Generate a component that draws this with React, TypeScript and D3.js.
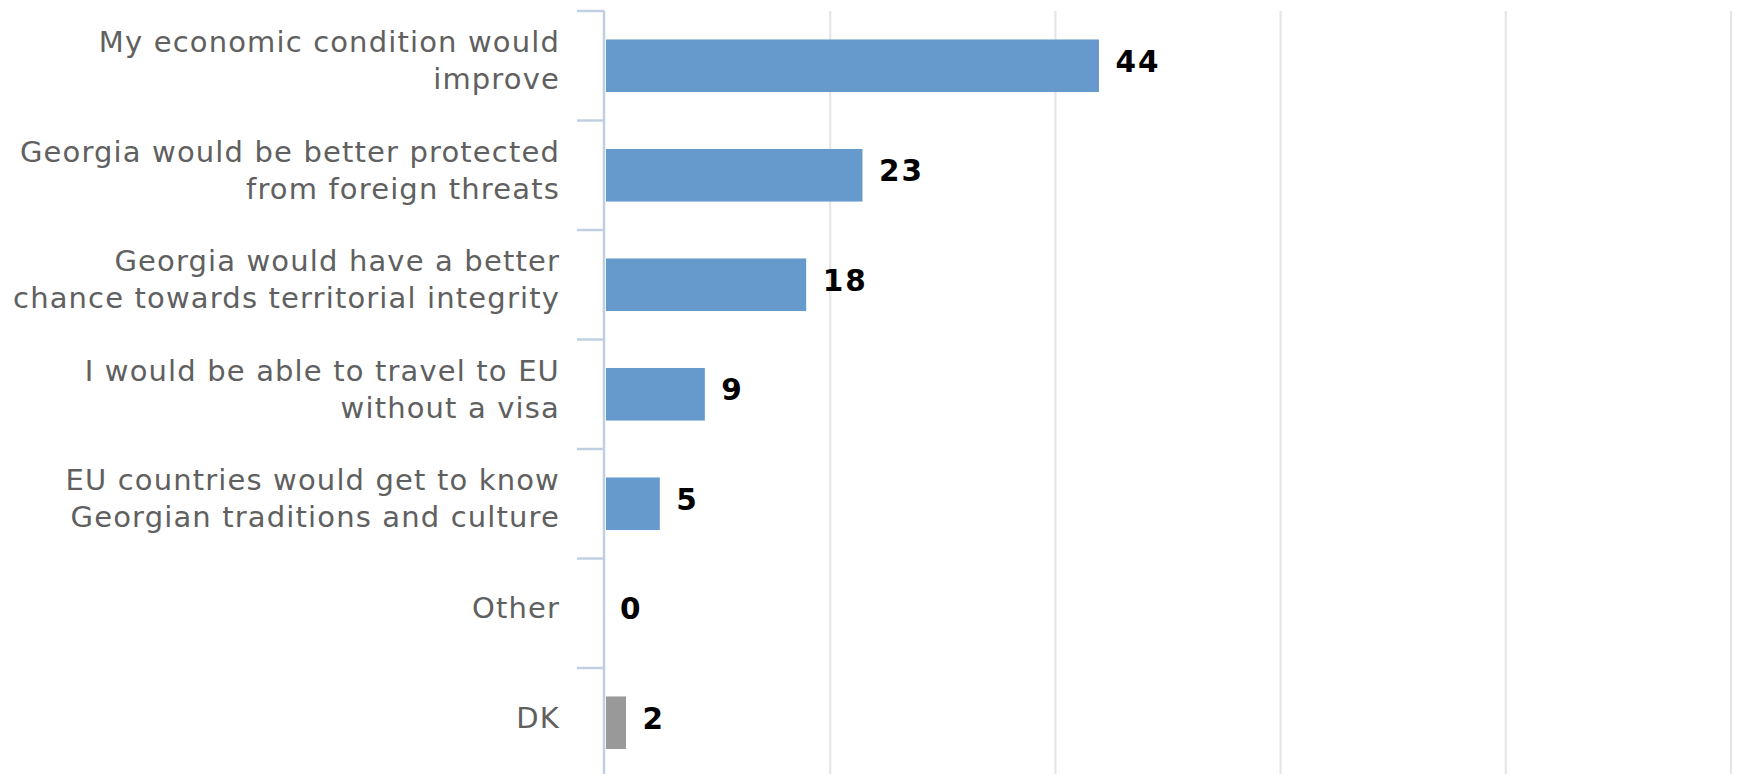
import React from "react";
import * as d3 from "d3";

const categories: string[][] = [
  ["My economic condition would", "improve"],
  ["Georgia would be better protected", "from foreign threats"],
  ["Georgia would have a better", "chance towards territorial integrity"],
  ["I would be able to travel to EU", "without a visa"],
  ["EU countries would get to know", "Georgian traditions and culture"],
  ["Other"],
  ["DK"],
];
const values: number[] = [44, 23, 18, 9, 5, 0, 2];
const barColors: string[] = ["#6699cc", "#6699cc", "#6699cc", "#6699cc", "#6699cc", "#6699cc", "#999999"];
const gridTicks: number[] = [20, 40, 60, 80, 100];

const W = 1738;
const H = 774;
const FONT = "'DejaVu Sans', Verdana, sans-serif";

export default function App() {
  const keys = categories.map((_, i) => String(i));
  const x = d3.scaleLinear().domain([0, 100]).range([605, 1731]);
  const y = d3.scaleBand<string>().domain(keys).range([11, 777.5]).padding(0);
  const bw = y.bandwidth();
  const barH = bw * 0.48;
  const lineH = 36.6;

  return (
    <svg
      width={W}
      height={H}
      style={{ position: "absolute", left: 0, top: 0, display: "block", background: "#fff" }}
    >
      <rect x={0} y={0} width={W} height={H} fill="#fff" />
      {gridTicks.map((t) => (
        <line key={t} x1={x(t)} x2={x(t)} y1={11} y2={H} stroke="#e6e6e6" strokeWidth={2.2} />
      ))}
      {keys.map((k, i) => {
        const cy = (y(k) as number) + bw / 2;
        return (
          <g key={k}>
            <rect
              x={x(0) + 1}
              y={cy - barH / 2}
              width={Math.max(0, x(values[i]) - x(0) - 2.5)}
              height={barH}
              fill={barColors[i]}
            />
            <text
              x={x(values[i]) + 15}
              y={cy + 6}
              fontFamily={FONT}
              fontWeight="bold"
              fontSize={29.5}
              letterSpacing={2}
              fill="#000"
            >
              {values[i]}
            </text>
            {categories[i].map((line, j) => (
              <text
                key={j}
                x={560}
                y={cy + 5 + (j - (categories[i].length - 1) / 2) * lineH}
                textAnchor="end"
                fontFamily={FONT}
                fontSize={29}
                letterSpacing={1.15}
                fill="#606060"
              >
                {line}
              </text>
            ))}
          </g>
        );
      })}
      {keys.map((k) => (
        <line key={"t" + k} x1={577} x2={604} y1={y(k) as number} y2={y(k) as number} stroke="#c0d0e0" strokeWidth={2.5} />
      ))}
      <line x1={604} x2={604} y1={11} y2={H} stroke="#c0d0e0" strokeWidth={2.5} />
    </svg>
  );
}
